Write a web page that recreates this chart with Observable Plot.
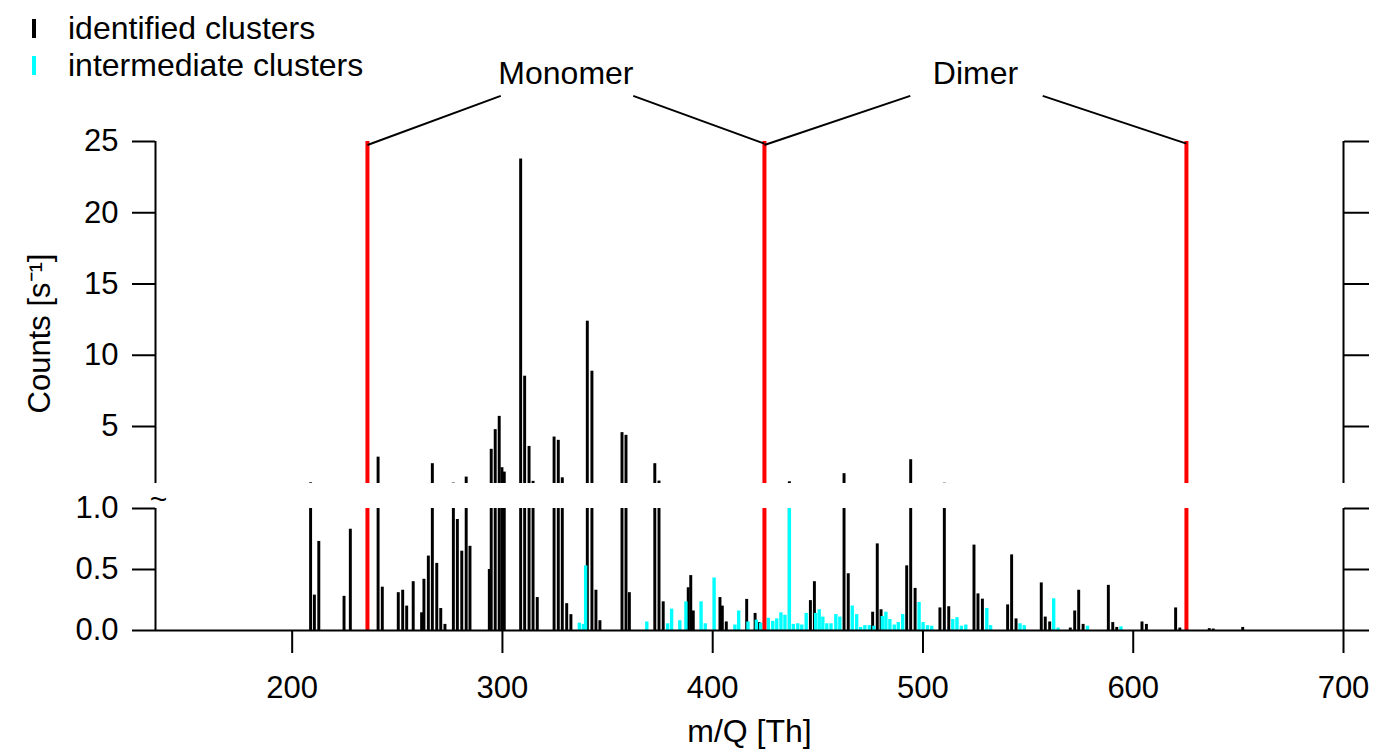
<!DOCTYPE html>
<html>
<head>
<meta charset="utf-8">
<script src="https://cdn.jsdelivr.net/npm/d3@7"></script>
<script src="https://cdn.jsdelivr.net/npm/@observablehq/plot@0.6"></script>
<style>
  body { margin: 0; background: #fff; }
  #chart { position: relative; width: 1373px; height: 750px; font-family: "Liberation Sans", Arial, Helvetica, sans-serif; overflow: hidden; }
  #upper { position: absolute; left: 0; top: 0; }
  #lower { position: absolute; left: 0; top: 483px; }
  #legend { position: absolute; left: 0; top: 0; }
  .lg-row { position: absolute; left: 0; height: 32px; width: 420px; }
  .lg-mark { position: absolute; left: 32px; width: 4px; height: 19px; }
  .lg-text { position: absolute; left: 68px; font-size: 32px; line-height: 32px; white-space: nowrap; color: #000; }
</style>
</head>
<body>
<div id="chart">
  <div id="upper"></div>
  <div id="lower"></div>
  <div id="legend"></div>
</div>
<script>
// ---------------- data ----------------
const xDomain = [135, 700];
const xTicks = [200, 300, 400, 500, 600, 700];
const upperTicks = [5, 10, 15, 20, 25];
const lowerTicks = [0, 0.5, 1.0];
const seriesNames = ["identified clusters", "intermediate clusters"];
const seriesColors = ["#000000", "#00ffff"];

const identifiedMz = [209.0, 210.8, 212.9, 224.9, 227.9, 241.1, 243.1, 250.7, 252.8, 254.7,
  257.8, 261.8, 262.9, 265.0, 266.9, 269.0, 270.9, 272.9, 276.9, 278.8,
  280.9, 283.0, 284.8, 294.0, 294.9, 296.8, 298.7, 300.0, 301.1, 308.9,
  310.8, 312.9, 314.8, 316.8, 324.8, 326.8, 328.7, 330.8, 332.8, 340.6,
  342.8, 344.7, 346.6, 357.1, 359.0, 360.6, 372.7, 374.7, 376.7, 388.6,
  389.8, 391.0, 403.7, 404.8, 406.7, 416.4, 420.4, 422.3, 436.7, 446.7,
  448.6, 462.7, 464.7, 476.3, 478.5, 480.3, 492.5, 494.4, 496.5, 508.3,
  510.4, 512.5, 524.5, 526.4, 528.5, 540.5, 542.4, 544.5, 556.5, 558.4,
  560.5, 570.3, 572.4, 574.3, 576.4, 588.4, 590.5, 592.4, 604.4, 606.5,
  620.4, 622.4, 636.4, 638.3, 652.3];
const identifiedCounts = [1.05, 0.29, 0.73, 0.28, 0.83, 2.85, 0.355, 0.31, 0.33, 0.20,
  0.40, 0.145, 0.42, 0.61, 2.39, 0.55, 0.18, 0.05, 1.03, 0.91,
  0.65, 1.45, 0.69, 0.50, 3.4, 4.78, 5.71, 2.11, 1.8, 23.77,
  8.53, 3.6, 1.15, 0.27, 4.26, 4.03, 1.4, 0.22, 0.13, 12.39,
  8.88, 0.33, 0.08, 4.57, 4.38, 0.31, 2.39, 1.17, 0.235, 0.35,
  0.45, 0.16, 0.27, 0.20, 0.07, 0.255, 0.14, 0.065, 1.12, 0.245,
  0.40, 1.69, 0.465, 0.15, 0.71, 0.17, 0.53, 2.67, 0.345, 0.185,
  1.02, 0.195, 0.70, 0.30, 0.257, 0.21, 0.62, 0.095, 0.39, 0.11,
  0.07, 0.02, 0.16, 0.33, 0.05, 0.37, 0.065, 0.025, 0.07, 0.05,
  0.185, 0.02, 0.015, 0.012, 0.025];

const intermediateMz = [336.8, 338.7, 339.8, 368.9, 378.8, 380.7, 384.6, 387.5, 394.7, 396.7,
  400.9, 410.8, 412.6, 417.0, 421.0, 423.0, 424.8, 426.7, 428.8, 430.7,
  432.7, 434.6, 436.7, 438.6, 440.7, 442.6, 444.7, 449.2, 450.9, 452.6,
  454.5, 456.5, 458.8, 460.7, 466.6, 468.7, 470.6, 472.6, 474.7, 476.9,
  480.9, 482.6, 484.5, 486.6, 488.5, 490.6, 498.4, 500.3, 502.4, 504.4,
  514.4, 516.4, 518.5, 520.6, 530.6, 532.4, 546.4, 548.4, 562.4, 564.5,
  578.5, 594.4];
const intermediateCounts = [0.06, 0.05, 0.53, 0.07, 0.055, 0.175, 0.08, 0.235, 0.235, 0.055,
  0.43, 0.045, 0.16, 0.07, 0.085, 0.06, 0.08, 0.10, 0.075, 0.095,
  0.145, 0.125, 1.0, 0.05, 0.055, 0.045, 0.14, 0.14, 0.17, 0.11,
  0.055, 0.055, 0.13, 0.11, 0.20, 0.13, 0.025, 0.04, 0.04, 0.035,
  0.115, 0.15, 0.09, 0.045, 0.065, 0.13, 0.23, 0.065, 0.04, 0.035,
  0.09, 0.105, 0.035, 0.045, 0.18, 0.04, 0.055, 0.04, 0.26, 0.02,
  0.035, 0.03];

const markerLines = [235.8, 424.6, 625.3];
const annotationLabels = ["Monomer", "Dimer"];
const xLabel = "m/Q [Th]";
const yLabel = "Counts [s\u207B\u00B9]";

// ---------------- build ----------------
const identified = identifiedMz.map((mz, i) => ({mz, c: identifiedCounts[i]}));
const intermediate = intermediateMz.map((mz, i) => ({mz, c: intermediateCounts[i]}));
const annotations = annotationLabels.map((label, i) => ({
  label, a: markerLines[i], b: markerLines[i + 1], mid: (markerLines[i] + markerLines[i + 1]) / 2
}));
const annLinks = annotations.flatMap(d => [
  {x1: d.a, y1: 24.75, x2: d.mid - 31, y2: 28.2},
  {x1: d.mid + 32, y1: 28.2, x2: d.b, y2: 24.85}
]);

const FONT = '"Liberation Sans", Arial, Helvetica, sans-serif';
const W = 1373, ML = 155, MR = 30;
const BW = 0.7, CW = 0.8; // half bar widths (Th)

function bars(data, color, hw) {
  return Plot.rect(data, {x1: d => d.mz - hw, x2: d => d.mz + hw, y1: 0, y2: "c", fill: color, clip: true});
}

const style = {fontFamily: FONT, fontSize: "31px", color: "#000", background: "transparent", overflow: "visible"};

const upper = Plot.plot({
  width: W, height: 483, marginLeft: ML, marginRight: MR, marginTop: 141, marginBottom: 0,
  style,
  x: {domain: xDomain, axis: null},
  y: {domain: [1, 25], axis: null},
  marks: [
    bars(identified, seriesColors[0], BW),
    bars(intermediate, seriesColors[1], CW),
    Plot.ruleX(markerLines, {stroke: "#ff0000", strokeWidth: 4}),
    Plot.ruleX([xDomain[0], xDomain[1]], {stroke: "#000", strokeWidth: 2}),
    Plot.axisY({anchor: "left", ticks: upperTicks, tickSize: 23, tickPadding: 14, label: null, fontSize: 31, strokeWidth: 2}),
    Plot.axisY({anchor: "right", ticks: upperTicks, tickSize: 25, tickFormat: () => "", label: null, strokeWidth: 2}),
    Plot.link(annLinks, {x1: "x1", y1: "y1", x2: "x2", y2: "y2", stroke: "#000", strokeWidth: 2}),
    Plot.text(annotations, {x: "mid", y: 29.75, text: "label", fontSize: 32, fill: "#000"}),
    Plot.text([yLabel], {frameAnchor: "left", textAnchor: "middle", dx: -115, dy: 21, rotate: -90, fontSize: 31, fill: "#000"})
  ]
});

const lower = Plot.plot({
  width: W, height: 267, marginLeft: ML, marginRight: MR, marginTop: 25, marginBottom: 120,
  style,
  x: {domain: xDomain, axis: null},
  y: {domain: [0, 1], axis: null},
  marks: [
    bars(identified, seriesColors[0], BW),
    bars(intermediate, seriesColors[1], CW),
    Plot.ruleX(markerLines, {stroke: "#ff0000", strokeWidth: 4}),
    Plot.ruleX([xDomain[0], xDomain[1]], {stroke: "#000", strokeWidth: 2}),
    Plot.ruleY([0], {stroke: "#000", strokeWidth: 2}),
    Plot.axisY({anchor: "left", ticks: lowerTicks, tickFormat: d3.format(".1f"), tickSize: 23, tickPadding: 14, label: null, fontSize: 31, strokeWidth: 2}),
    Plot.axisY({anchor: "right", ticks: lowerTicks, tickSize: 25, tickFormat: () => "", label: null, strokeWidth: 2}),
    Plot.axisX({anchor: "bottom", ticks: xTicks, tickSize: 23, tickPadding: 22, label: null, fontSize: 31, strokeWidth: 2}),
    Plot.text([xLabel], {frameAnchor: "bottom", dy: 111, fontSize: 32, fill: "#000"}),
    Plot.text(["~"], {frameAnchor: "top-left", textAnchor: "middle", dx: 3, dy: -21, fontSize: 30, fill: "#000"})
  ]
});

document.getElementById("upper").appendChild(upper);
document.getElementById("lower").appendChild(lower);

// legend
const legend = document.getElementById("legend");
seriesNames.forEach((name, i) => {
  const row = document.createElement("div");
  row.className = "lg-row";
  row.style.top = (12 + i * 37) + "px";
  const mark = document.createElement("div");
  mark.className = "lg-mark";
  mark.style.background = seriesColors[i];
  mark.style.top = "7px";
  const text = document.createElement("div");
  text.className = "lg-text";
  text.textContent = name;
  row.appendChild(mark);
  row.appendChild(text);
  legend.appendChild(row);
});
</script>
</body>
</html>
